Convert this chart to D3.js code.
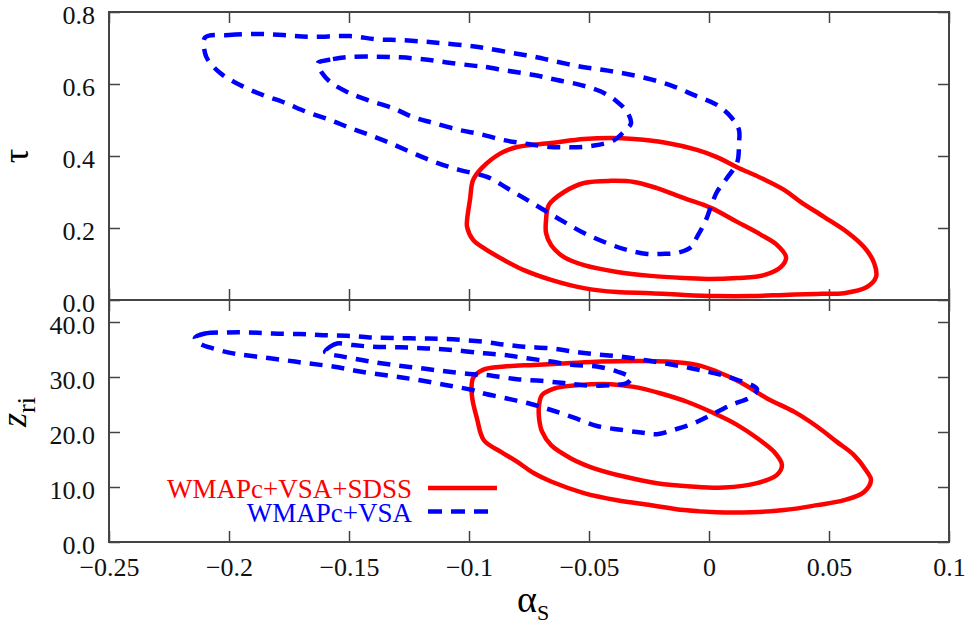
<!DOCTYPE html>
<html>
<head>
<meta charset="utf-8">
<script src="https://cdn.jsdelivr.net/npm/d3@7"></script>
<style>
  body { margin: 0; background: #fff; }
</style>
</head>
<body>
<script>
// contour points, [alpha_s, tau] (top panel) and [alpha_s, z_ri] (bottom panel)
const redOuterTau = [[-0.1008,0.222],[-0.0996,0.278],[-0.0983,0.333],[-0.0946,0.367],[-0.0867,0.408],[-0.08,0.425],[-0.0658,0.436],[-0.0521,0.447],[-0.0408,0.45],[-0.0313,0.447],[-0.0175,0.436],[-0.005,0.417],[0.0033,0.397],[0.0117,0.369],[0.0217,0.339],[0.0313,0.306],[0.0383,0.272],[0.0479,0.231],[0.0575,0.189],[0.0646,0.147],[0.0688,0.103],[0.0696,0.064],[0.0658,0.036],[0.0563,0.019],[0.045,0.017],[0.0313,0.014],[0.0175,0.011],[0.0033,0.011],[-0.0104,0.014],[-0.0242,0.019],[-0.0383,0.022],[-0.0521,0.033],[-0.0658,0.056],[-0.0771,0.083],[-0.0854,0.111],[-0.0938,0.144],[-0.0983,0.167],[-0.1008,0.203]];
const redInnerTau = [[-0.0679,0.222],[-0.0667,0.264],[-0.0604,0.3],[-0.0521,0.325],[-0.0408,0.331],[-0.0313,0.328],[-0.0217,0.311],[-0.0104,0.283],[0.0008,0.256],[0.0117,0.217],[0.0217,0.181],[0.0283,0.153],[0.0321,0.119],[0.03,0.092],[0.0229,0.069],[0.0117,0.061],[0.0008,0.058],[-0.0104,0.061],[-0.0242,0.067],[-0.0383,0.078],[-0.0521,0.097],[-0.0604,0.119],[-0.0658,0.153],[-0.0679,0.186]];
const blueOuterTau = [[-0.21,0.729],[-0.2,0.736],[-0.1883,0.739],[-0.1775,0.736],[-0.1663,0.731],[-0.1496,0.733],[-0.1383,0.724],[-0.1288,0.722],[-0.1192,0.718],[-0.1108,0.713],[-0.0996,0.706],[-0.0933,0.7],[-0.0825,0.687],[-0.0729,0.676],[-0.0633,0.662],[-0.0533,0.648],[-0.0438,0.639],[-0.0342,0.628],[-0.0242,0.613],[-0.0146,0.593],[-0.0062,0.569],[0.0033,0.542],[0.0096,0.505],[0.0125,0.472],[0.0125,0.436],[0.0117,0.381],[0.0075,0.339],[0.0033,0.3],[0.0013,0.269],[-0.0013,0.222],[-0.005,0.175],[-0.0075,0.147],[-0.0133,0.131],[-0.02,0.128],[-0.0258,0.128],[-0.0342,0.139],[-0.0425,0.158],[-0.0521,0.186],[-0.0604,0.217],[-0.0688,0.25],[-0.0758,0.278],[-0.0842,0.311],[-0.0925,0.342],[-0.1038,0.361],[-0.1133,0.381],[-0.1233,0.408],[-0.1329,0.436],[-0.1413,0.458],[-0.1496,0.478],[-0.1579,0.5],[-0.1675,0.522],[-0.1775,0.55],[-0.1858,0.569],[-0.1954,0.597],[-0.2038,0.631],[-0.2088,0.667],[-0.21,0.686]];
const blueInnerTau = [[-0.1629,0.659],[-0.1567,0.669],[-0.1496,0.675],[-0.1383,0.676],[-0.1288,0.674],[-0.1192,0.669],[-0.1092,0.66],[-0.0983,0.651],[-0.0938,0.648],[-0.0842,0.637],[-0.0729,0.625],[-0.0633,0.611],[-0.0533,0.597],[-0.045,0.579],[-0.0383,0.551],[-0.0342,0.523],[-0.0325,0.491],[-0.0354,0.468],[-0.0396,0.444],[-0.0479,0.429],[-0.0575,0.424],[-0.0675,0.426],[-0.0771,0.435],[-0.0854,0.444],[-0.0954,0.461],[-0.1038,0.472],[-0.115,0.492],[-0.1233,0.508],[-0.1317,0.533],[-0.1425,0.556],[-0.1508,0.578],[-0.1579,0.606],[-0.1613,0.631],[-0.1629,0.653]];

const redOuterZ = [[-0.0942,31.3],[-0.0854,31.9],[-0.0729,32.2],[-0.0592,32.5],[-0.045,32.8],[-0.0313,32.9],[-0.0175,32.8],[-0.005,32.2],[0.0033,31.0],[0.0133,29.0],[0.0242,26.1],[0.0354,23.7],[0.045,21.0],[0.0533,18.2],[0.0604,15.8],[0.0658,12.8],[0.0675,11.3],[0.0646,9.1],[0.0563,7.6],[0.045,6.7],[0.0313,5.8],[0.0175,5.4],[0.0033,5.4],[-0.0104,5.8],[-0.0242,6.7],[-0.0383,7.6],[-0.0521,8.9],[-0.0658,11.0],[-0.0729,12.5],[-0.08,14.6],[-0.0867,16.4],[-0.0938,18.5],[-0.0967,22.5],[-0.0988,26.7],[-0.0983,29.8]];
const redInnerZ = [[-0.0708,24.9],[-0.0696,26.7],[-0.0646,27.9],[-0.055,28.5],[-0.0408,28.7],[-0.0313,28.2],[-0.02,27.0],[-0.0092,25.5],[0.0021,23.4],[0.0117,21.3],[0.02,18.9],[0.0271,16.4],[0.0304,14.0],[0.0283,12.2],[0.02,10.7],[0.0063,9.9],[-0.0075,10.1],[-0.0217,10.7],[-0.0354,11.9],[-0.0479,13.4],[-0.0575,15.2],[-0.0658,17.6],[-0.0696,20.1],[-0.0708,22.5]];
const blueOuterZ = [[-0.2142,37.1],[-0.21,37.9],[-0.2008,38.1],[-0.1913,38.1],[-0.1817,37.9],[-0.1704,37.8],[-0.1608,37.6],[-0.1508,37.5],[-0.1413,37.2],[-0.1317,37.1],[-0.1204,37.0],[-0.1092,36.9],[-0.0938,36.4],[-0.0854,35.9],[-0.0771,35.5],[-0.0658,35.2],[-0.0563,34.6],[-0.0467,34.1],[-0.0367,33.7],[-0.0271,33.1],[-0.0175,32.4],[-0.0075,31.6],[0.0021,30.7],[0.0117,29.5],[0.02,27.8],[0.0175,26.4],[0.0092,24.9],[0.0008,23.1],[-0.0063,21.6],[-0.0146,20.4],[-0.0217,19.6],[-0.0283,19.9],[-0.0367,20.4],[-0.0467,21.1],[-0.0563,22.6],[-0.0658,24.0],[-0.0742,25.1],[-0.0842,26.1],[-0.0938,27.0],[-0.0983,27.6],[-0.1092,28.5],[-0.1217,29.5],[-0.1329,30.2],[-0.1454,31.0],[-0.1567,31.9],[-0.1675,32.5],[-0.1775,33.1],[-0.1883,33.7],[-0.1983,34.3],[-0.2067,35.2],[-0.2121,36.1]];
const blueInnerZ = [[-0.16,34.6],[-0.1579,35.5],[-0.155,36.1],[-0.1483,35.8],[-0.14,35.5],[-0.1288,35.4],[-0.1175,35.2],[-0.1067,34.9],[-0.0938,34.3],[-0.0854,34.0],[-0.0758,33.4],[-0.0658,32.8],[-0.0563,32.2],[-0.0467,31.9],[-0.0383,31.0],[-0.0325,29.8],[-0.0342,28.9],[-0.0408,28.5],[-0.0521,28.5],[-0.0604,28.9],[-0.07,29.3],[-0.08,29.6],[-0.0883,30.1],[-0.0938,30.4],[-0.0983,30.5],[-0.1092,31.0],[-0.1204,31.6],[-0.1317,32.2],[-0.1425,32.9],[-0.1525,33.7],[-0.1592,34.3]];

const xTicks = [-0.25, -0.2, -0.15, -0.1, -0.05, 0, 0.05, 0.1];
const tauTicks = [0, 0.2, 0.4, 0.6, 0.8];
const zTicks = [0, 10, 20, 30, 40];
const legendLabels = ['WMAPc+VSA+SDSS', 'WMAPc+VSA'];

const width = 969,
  height = 624;
const pLeft = 109, pRight = 949, pTop = 12, pMid = 300, pBottom = 542;
const frameColor = '#444';
const tickLen = 11;
const red = '#ff0000', blue = '#0000ff';

// pick a serif face that is really installed
function hasFont(name) {
  const ctx = document.createElement('canvas').getContext('2d');
  const probe = 'WMAPc+VSA 0.123 mmmwwwlli';
  return ['monospace', 'sans-serif'].some(base => {
    ctx.font = `72px ${base}`;
    const w0 = ctx.measureText(probe).width;
    ctx.font = `72px "${name}", ${base}`;
    return ctx.measureText(probe).width !== w0;
  });
}
const serifFace = ['Liberation Serif', 'Times New Roman', 'Tinos', 'DejaVu Serif', 'Noto Serif', 'FreeSerif']
  .find(hasFont);
const fontFamily = serifFace ? `"${serifFace}", serif` : 'serif';

const svg = d3.select('body').append('svg')
  .attr('width', width)
  .attr('height', height)
  .attr('font-family', fontFamily);

const x = d3.scaleLinear().domain([-0.25, 0.1]).range([pLeft, pRight]);
const yTau = d3.scaleLinear().domain([0, 0.8]).range([pMid, pTop]);
const yZ = d3.scaleLinear().domain([0, 44]).range([pBottom, pMid]);

const minusFmt = v => (v < 0 ? '\u2212' : '') + Math.abs(v);

function styleAxis(g) {
  g.attr('font-family', fontFamily).attr('font-size', 26);
  g.select('.domain').remove();
  g.selectAll('.tick line').attr('stroke', frameColor).attr('stroke-width', 1.5);
  g.selectAll('.tick text').attr('fill', '#111');
}

// top panel axes
svg.append('g').attr('transform', `translate(${pLeft},0)`)
  .call(d3.axisLeft(yTau).tickValues(tauTicks).tickSize(-tickLen).tickPadding(14).tickFormat(d3.format('.1f')))
  .call(styleAxis)
  .call(g => g.selectAll('.tick text').attr('dy', '0.45em'));
svg.append('g').attr('transform', `translate(${pRight},0)`)
  .call(d3.axisRight(yTau).tickValues(tauTicks).tickSize(-tickLen).tickFormat(''))
  .call(styleAxis);
svg.append('g').attr('transform', `translate(0,${pTop})`)
  .call(d3.axisTop(x).tickValues(xTicks).tickSize(-tickLen).tickFormat(''))
  .call(styleAxis);
svg.append('g').attr('transform', `translate(0,${pMid})`)
  .call(d3.axisBottom(x).tickValues(xTicks).tickSize(-tickLen).tickFormat(''))
  .call(styleAxis);

// bottom panel axes
svg.append('g').attr('transform', `translate(${pLeft},0)`)
  .call(d3.axisLeft(yZ).tickValues(zTicks).tickSize(-tickLen).tickPadding(14).tickFormat(d3.format('.1f')))
  .call(styleAxis)
  .call(g => g.selectAll('.tick text').attr('dy', '0.45em'));
svg.append('g').attr('transform', `translate(${pRight},0)`)
  .call(d3.axisRight(yZ).tickValues(zTicks).tickSize(-tickLen).tickFormat(''))
  .call(styleAxis);
svg.append('g').attr('transform', `translate(0,${pMid})`)
  .call(d3.axisTop(x).tickValues(xTicks).tickSize(-tickLen).tickFormat(''))
  .call(styleAxis);
svg.append('g').attr('transform', `translate(0,${pBottom})`)
  .call(d3.axisBottom(x).tickValues(xTicks).tickSize(-tickLen).tickPadding(16).tickFormat(minusFmt))
  .call(styleAxis);

// frames
svg.append('rect').attr('x', pLeft).attr('y', pTop).attr('width', pRight - pLeft).attr('height', pMid - pTop)
  .attr('fill', 'none').attr('stroke', frameColor).attr('stroke-width', 2);
svg.append('rect').attr('x', pLeft).attr('y', pMid).attr('width', pRight - pLeft).attr('height', pBottom - pMid)
  .attr('fill', 'none').attr('stroke', frameColor).attr('stroke-width', 2);

// contours
const lineTau = d3.line().x(d => x(d[0])).y(d => yTau(d[1])).curve(d3.curveCatmullRomClosed.alpha(0.5));
const lineZ = d3.line().x(d => x(d[0])).y(d => yZ(d[1])).curve(d3.curveCatmullRomClosed.alpha(0.5));

function contour(data, line, color, dashed) {
  svg.append('path').datum(data)
    .attr('d', line)
    .attr('fill', 'none')
    .attr('stroke', color)
    .attr('stroke-width', 4.5)
    .attr('stroke-linejoin', 'round')
    .attr('stroke-dasharray', dashed ? '13,9' : null);
}

contour(redOuterTau, lineTau, red, false);
contour(redInnerTau, lineTau, red, false);
contour(blueOuterTau, lineTau, blue, true);
contour(blueInnerTau, lineTau, blue, true);
contour(redOuterZ, lineZ, red, false);
contour(redInnerZ, lineZ, red, false);
contour(blueOuterZ, lineZ, blue, true);
contour(blueInnerZ, lineZ, blue, true);

// legend
const legend = svg.append('g');
legendLabels.forEach((label, i) => {
  const color = i === 0 ? red : blue;
  const yb = 498 + i * 23.5;
  legend.append('text')
    .attr('x', 412).attr('y', yb)
    .attr('text-anchor', 'end')
    .attr('font-size', 27)
    .attr('fill', color)
    .text(label);
  legend.append('line')
    .attr('x1', 428).attr('x2', 497)
    .attr('y1', yb - 10).attr('y2', yb - 10)
    .attr('stroke', color)
    .attr('stroke-width', 4.5)
    .attr('stroke-dasharray', i === 0 ? null : '14,9');
});

// axis titles
svg.append('text')
  .attr('transform', 'translate(28,156) rotate(-90)')
  .attr('text-anchor', 'middle')
  .attr('font-size', 36)
  .text('\u03c4');

const zLabel = svg.append('text')
  .attr('transform', 'translate(26,412) rotate(-90)')
  .attr('text-anchor', 'middle')
  .attr('font-size', 36);
zLabel.append('tspan').attr('font-style', 'italic').text('z');
zLabel.append('tspan').attr('font-size', 26).attr('dy', 9).text('ri');

const aLabel = svg.append('text')
  .attr('x', 517).attr('y', 612)
  .attr('font-size', 38);
aLabel.append('tspan').text('\u03b1');
aLabel.append('tspan').attr('font-size', 22).attr('dy', 8).text('S');
</script>
</body>
</html>
